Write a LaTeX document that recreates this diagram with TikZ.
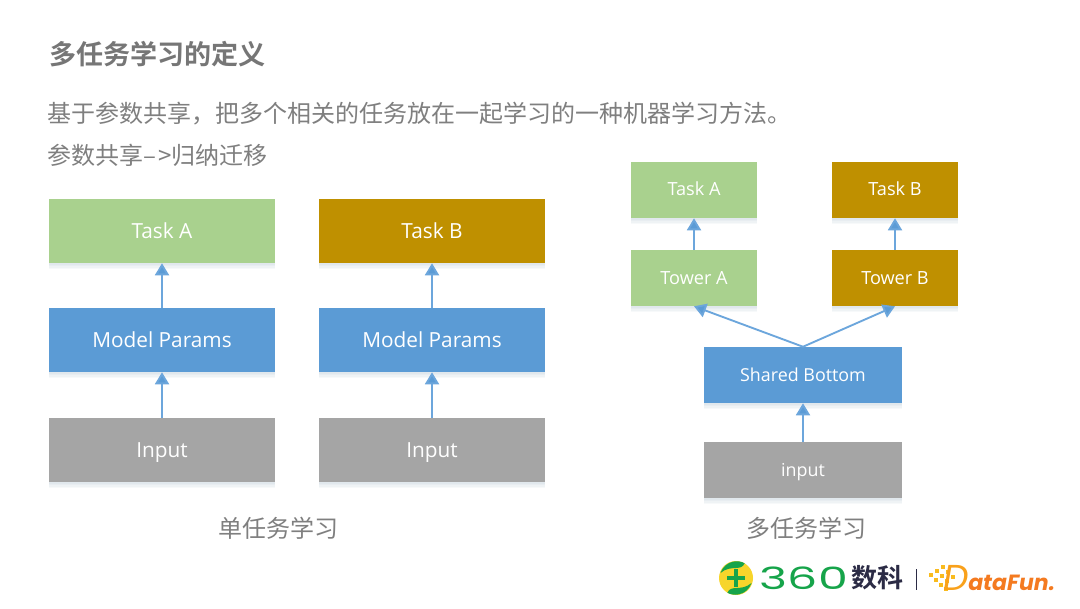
\documentclass[tikz,border=0pt]{standalone}
\usepackage{fontspec}
\usetikzlibrary{arrows.meta}
\setmainfont{Open Sans}
\newfontfamily\cjk{Noto Sans CJK SC}
\newfontfamily\cjkb{Noto Sans CJK SC}[BoldFont={Noto Sans CJK SC Bold}]
\newfontfamily\logofont{Poppins}
\definecolor{tgreen}{HTML}{A9D18E}
\definecolor{tgold}{HTML}{BF9000}
\definecolor{tblue}{HTML}{5B9BD5}
\definecolor{tline}{HTML}{6CA6DC}
\definecolor{tgray}{HTML}{A5A5A5}
\definecolor{ink}{HTML}{7F7F7F}
\definecolor{inkd}{HTML}{767676}
\definecolor{lgreen}{HTML}{16A44A}
\definecolor{lyellow}{HTML}{F7D52B}
\definecolor{lnavy}{HTML}{2B2B45}
\definecolor{lorange}{HTML}{F9A11B}
\definecolor{lred}{HTML}{F47A20}
\tikzset{
  x=0.75pt,y=-0.75pt,
  boxbase/.style={rectangle,inner sep=0,text=white,text depth=0pt,font=\fontsize{15.6}{18}\selectfont},
  bigbox/.style={boxbase,minimum width=169.5pt,minimum height=48pt},
  smallbox/.style={boxbase,minimum width=95pt,minimum height=42pt,font=\fontsize{13.6}{15}\selectfont},
  topbox/.style={smallbox,text depth=2.5pt},
  midbox/.style={boxbase,minimum width=148.5pt,minimum height=42pt,font=\fontsize{13.4}{15}\selectfont},
  link/.style={draw=tline,line width=1.4pt,-{Triangle[length=9pt,width=10.5pt,fill=tblue]}},
  shadowrect/.style={fill=tblue!50!gray,opacity=.05,draw=none},
  caption/.style={inner sep=0,text=ink,font=\cjk\fontsize{18}{22}\selectfont}
}
\begin{document}
\begin{tikzpicture}
\useasboundingbox (0,0) rectangle (1080,608);
\fill[white] (0,0) rectangle (1080,608);

% soft shadows under boxes
\foreach \a/\b/\c/\d in {49/199/275/263,319/199/545/263,49/308/275/372,319/308/545/372,49/418/275/482,319/418/545/482,631/162/757/218,832/162/958/218,631/250/757/306,832/250/958/306,704/347/902/403,704/442/902/498}{
  \foreach \e in {1.5,3,4.5,6}{
    \fill[shadowrect] (\a,\b) rectangle (\c,\d+\e);
  }
}

\node[anchor=west,inner sep=0,text=inkd,font=\cjkb\bfseries\fontsize{20.3}{24}\selectfont] (title) at (49,54) {多任务学习的定义};
\node[anchor=west,inner sep=0,text=ink,font=\cjk\fontsize{18}{22}\selectfont] (l1) at (47,114) {基于参数共享，把多个相关的任务放在一起学习的一种机器学习方法。};
\node[anchor=west,inner sep=0,text=ink,font=\cjk\fontsize{18}{22}\selectfont] (l2) at (47,155) {参数共享{\addfontfeature{LetterSpace=8}–>}归纳迁移};

% left pair
\node[bigbox,fill=tgreen] (ta1) at (162,231) {Task A};
\node[bigbox,fill=tblue] (mp1) at (162,340) {Model Params};
\node[bigbox,fill=tgray] (in1) at (162,450) {Input};
\node[bigbox,fill=tgold] (tb1) at (432,231) {Task B};
\node[bigbox,fill=tblue] (mp2) at (432,340) {Model Params};
\node[bigbox,fill=tgray] (in2) at (432,450) {Input};
\draw[link] (in1) -- (mp1);
\draw[link] (mp1) -- (ta1);
\draw[link] (in2) -- (mp2);
\draw[link] (mp2) -- (tb1);

% right tree
\node[topbox,fill=tgreen] (ta) at (694,190) {Task A};
\node[topbox,fill=tgold] (tb) at (895,190) {Task B};
\node[smallbox,fill=tgreen] (wa) at (694,278) {Tower A};
\node[smallbox,fill=tgold] (wb) at (895,278) {Tower B};
\node[midbox,fill=tblue] (sb) at (803,375) {Shared Bottom};
\node[midbox,fill=tgray] (ip) at (803,470) {input};
\draw[link] (wa) -- (ta);
\draw[link] (wb) -- (tb);
\draw[link] (sb.north) -- (wa.south);
\draw[link] (sb.north) -- (wb.south);
\draw[link] (ip) -- (sb);

\node[caption] (c1) at (278,528) {单任务学习};
\node[caption] (c2) at (806,528) {多任务学习};

% 360 logo
\fill[lyellow] (736,578) circle[radius=17];
\fill[lgreen] (720.5,573) arc[start angle=-162,end angle=-62,radius=17] .. controls (741,572) and (731,564) .. cycle;
\fill[lgreen] (751.5,583) arc[start angle=18,end angle=118,radius=17] .. controls (731,584) and (741,592) .. cycle;
\fill[lgreen] (733.7,569) rectangle (737.7,587);
\fill[lgreen] (726.7,576) rectangle (744.7,580);
\node[inner sep=0,text=lgreen] (n360) at (804,578) {\logofont\fontsize{23}{25}\selectfont\scalebox{1.55}[1]{360}};
\node[inner sep=0,text=lnavy,anchor=west,font=\cjkb\bfseries\fontsize{19.5}{22}\selectfont] (shuke) at (851,578) {数科};
\draw[lnavy,line width=1.4pt] (916.5,569) -- (916.5,590);

% DataFun logo
\foreach \p/\q in {931/575,937/571,943/567,936/580,942/576,948/572,941/585,947/581,953/577,946/589}{
  \fill[lyellow!70!orange] (\p-1.6,\q-1.6) rectangle (\p+1.6,\q+1.6);
}
\node[inner sep=0,anchor=base west,text=lorange,font=\logofont\itshape\fontsize{27}{28}\selectfont] (dd) at (943,590) {D};
\node[inner sep=0,anchor=base west,text=lred,font=\logofont\bfseries\itshape\fontsize{16.5}{18}\selectfont] (df) at (968,590) {ataFun.};
\end{tikzpicture}
\end{document}
